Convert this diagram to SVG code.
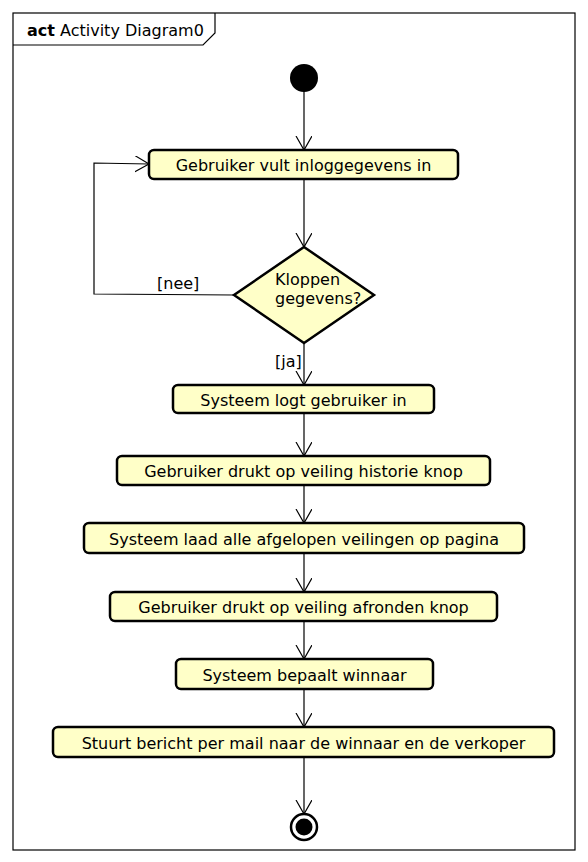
<svg xmlns="http://www.w3.org/2000/svg" width="588" height="862" viewBox="0 0 588 862">
<defs>
<marker id="arr" markerWidth="20" markerHeight="20" refX="14" refY="8" orient="auto" markerUnits="userSpaceOnUse">
<path d="M0,0 L14,8 L0,16" fill="none" stroke="#000" stroke-width="1.2"/>
</marker>
<style>
.node{fill:#ffffc8;stroke:#000;stroke-width:2.5}
.t{font-family:"DejaVu Sans",sans-serif;font-size:16px;fill:#000;text-anchor:middle}
.l{font-family:"DejaVu Sans",sans-serif;font-size:16px;fill:#000}
.c{fill:none;stroke:#000;stroke-width:1.2;marker-end:url(#arr)}
</style>
</defs>
<rect x="0" y="0" width="588" height="862" fill="#fff"/>
<g id="frame">
<rect x="13" y="13" width="562" height="837" fill="none" stroke="#000" stroke-width="1.2"/>
<path d="M13,45 H203 L215,33 V13" fill="none" stroke="#000" stroke-width="1.2"/>
<text x="27" y="36" class="l" font-size="16.2"><tspan font-weight="bold">act</tspan> Activity Diagram0</text>
</g>
<g id="connectors">
<line x1="304" y1="91" x2="304" y2="150" class="c"/>
<line x1="304" y1="179" x2="304" y2="247" class="c"/>
<polyline points="234,295 94,294 94,163 149,164" class="c"/>
<line x1="304" y1="343" x2="304" y2="385" class="c"/>
<line x1="304" y1="413" x2="304" y2="456" class="c"/>
<line x1="304" y1="485" x2="304" y2="523" class="c"/>
<line x1="304" y1="553" x2="304" y2="592" class="c"/>
<line x1="304" y1="621" x2="304" y2="659" class="c"/>
<line x1="304" y1="689" x2="304" y2="727" class="c"/>
<line x1="304" y1="757" x2="304" y2="814" class="c"/>
<text x="157" y="289" class="l">[nee]</text>
<text x="275" y="367" class="l">[ja]</text>
</g>
<g id="start"><circle cx="304" cy="78" r="14" fill="#000"/></g>
<g id="n1"><rect x="149" y="150" width="309" height="29" rx="5" class="node"/><text x="303.5" y="170.5" class="t">Gebruiker vult inloggegevens in</text></g>
<g id="decision"><polygon points="304,247 374,295 304,343 234,295" class="node"/><text x="275" y="284.5" class="l">Kloppen</text><text x="275" y="303.5" class="l">gegevens?</text></g>
<g id="n2"><rect x="173" y="385" width="261" height="28" rx="5" class="node"/><text x="303.5" y="405.5" class="t">Systeem logt gebruiker in</text></g>
<g id="n3"><rect x="117" y="456" width="373" height="29" rx="5" class="node"/><text x="303.5" y="476.5" class="t">Gebruiker drukt op veiling historie knop</text></g>
<g id="n4"><rect x="84" y="523" width="440" height="30" rx="5" class="node"/><text x="304" y="544.5" class="t">Systeem laad alle afgelopen veilingen op pagina</text></g>
<g id="n5"><rect x="110" y="592" width="387" height="29" rx="5" class="node"/><text x="303.5" y="612.5" class="t">Gebruiker drukt op veiling afronden knop</text></g>
<g id="n6"><rect x="176" y="659" width="257" height="30" rx="5" class="node"/><text x="304.5" y="680.5" class="t">Systeem bepaalt winnaar</text></g>
<g id="n7"><rect x="53" y="727" width="501" height="30" rx="5" class="node"/><text x="303.5" y="748.5" class="t">Stuurt bericht per mail naar de winnaar en de verkoper</text></g>
<g id="end"><circle cx="304" cy="827" r="13" fill="#fff" stroke="#000" stroke-width="2.5"/><circle cx="304" cy="827" r="8.5" fill="#000"/></g>
</svg>
